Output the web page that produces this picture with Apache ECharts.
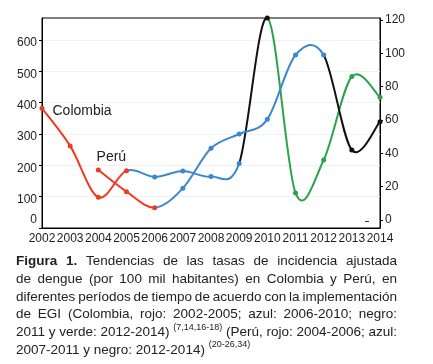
<!DOCTYPE html>
<html>
<head>
<meta charset="utf-8">
<script src="https://cdn.jsdelivr.net/npm/echarts@6/dist/echarts.min.js"></script>
<style>
html, body { margin: 0; padding: 0; background: #fff; }
#chart { width: 433px; height: 364px; }
</style>
</head>
<body>
<div id="chart"></div>
<script>
var years = ['2002', '2003', '2004', '2005', '2006', '2007', '2008', '2009', '2010', '2011', '2012', '2013', '2014'];
// Colombia read on the left axis, Peru on the right axis
var colombia = [382, 262, 98, 183, 163, 182, 164, 206, 670, 112, 217, 483, 417];
var peru = [null, null, 30, 17, 7.4, 19, 43, 51.6, 60.4, 99, 99, 42, 59];
var leftTicks = [0, 100, 200, 300, 400, 500, 600];
var rightTicks = [0, 20, 40, 60, 80, 100, 120];

var captionLines = [
    '*Figura *1. Tendencias de las tasas de incidencia ajustada',
    'de dengue (por 100 mil habitantes) en Colombia y Perú, en',
    'diferentes períodos de tiempo de acuerdo con la implementación',
    'de EGI (Colombia, rojo: 2002-2005; azul: 2006-2010; negro:',
    '2011 y verde: 2012-2014) ^(7,14,16-18) (Perú, rojo: 2004-2006; azul:',
    '2007-2011 y negro: 2012-2014) ^(20-26,34)'
];

var red = '#ee3a22', blue = '#3b88d0', black = '#111111', green = '#2ba24c';
// last point index of each coloured period
var colombiaPeriods = [[3, red], [7, blue], [8, black], [12, green]];
var peruPeriods = [[4, red], [10, blue], [12, black]];

var fam = '"Liberation Sans", Arial, sans-serif';
var txt = '#222';
var capFont = 13.5;

function colorAt(periods, i) {
    for (var k = 0; k < periods.length; k++) {
        if (i <= periods[k][0]) return periods[k][1];
    }
    return periods[periods.length - 1][1];
}

function pieces(periods) {
    return periods.map(function (p, k) {
        var piece = { lte: p[0], color: p[1] };
        if (k > 0) piece.gt = periods[k - 1][0];
        return piece;
    });
}

// smooth curve through the points (catmull-rom style, like the original plot)
function curveSeries(values, axisIndex, periods) {
    var first = 0;
    while (values[first] == null) first++;
    var last = values.length - 1;
    return {
        type: 'custom', yAxisIndex: axisIndex, silent: true, z: 1,
        data: values.map(function (v, i) { return [i, v]; }),
        encode: { x: 0, y: 1 },
        renderItem: function (params, api) {
            var i = params.dataIndex;
            if (i < first || i >= last) return;
            function pt(k) {
                k = Math.max(first, Math.min(last, k));
                return api.coord([k, values[k]]);
            }
            var p0 = pt(i - 1), p1 = pt(i), p2 = pt(i + 1), p3 = pt(i + 2);
            return {
                type: 'bezierCurve',
                shape: {
                    x1: p1[0], y1: p1[1], x2: p2[0], y2: p2[1],
                    cpx1: p1[0] + (p2[0] - p0[0]) / 6, cpy1: p1[1] + (p2[1] - p0[1]) / 6,
                    cpx2: p2[0] - (p3[0] - p1[0]) / 6, cpy2: p2[1] - (p3[1] - p1[1]) / 6
                },
                style: { stroke: colorAt(periods, i + 1), lineWidth: 2, fill: null }
            };
        }
    };
}

// caption, justified like the printed figure
var ctx = document.createElement('canvas').getContext('2d');
function measure(s, font) { ctx.font = font; return ctx.measureText(s).width; }

var capLeft = 16, capWidth = 381, capTop = 261.5, capStep = 17.7;
var captionEls = [];
captionLines.forEach(function (line, li) {
    var words = line.split(' ').map(function (w) {
        var font = capFont + 'px ' + fam, dy = 0;
        if (w.charAt(0) === '*') { w = w.slice(1); font = 'bold ' + capFont + 'px ' + fam; }
        else if (w.charAt(0) === '^') { w = w.slice(1); font = '9px ' + fam; dy = -5; }
        return { t: w, font: font, dy: dy, w: measure(w, font) };
    });
    var sum = 0;
    words.forEach(function (w) { sum += w.w; });
    var lastLine = li === captionLines.length - 1;
    var gap = lastLine ? measure(' ', capFont + 'px ' + fam) : (capWidth - sum) / (words.length - 1);
    var scale = 1;
    if (gap < 1.5) { gap = 1.5; scale = capWidth / (sum + gap * (words.length - 1)); }
    var x = 0, kids = [];
    words.forEach(function (w) {
        kids.push({
            type: 'text', x: x, y: w.dy,
            style: { text: w.t, font: w.font, fill: txt, verticalAlign: 'middle' }
        });
        x += w.w + gap;
    });
    captionEls.push({ type: 'group', x: capLeft, y: capTop + li * capStep, scaleX: scale, children: kids });
});

var myChart = echarts.init(document.getElementById('chart'));
var option = {
    animation: false,
    backgroundColor: '#fff',
    grid: {
        left: 42, right: 53, top: 18, bottom: 136,
        show: true, borderColor: '#000', borderWidth: 1
    },
    xAxis: {
        type: 'category',
        data: years,
        boundaryGap: false,
        axisLine: { lineStyle: { color: '#000' } },
        axisTick: { show: false },
        axisLabel: { interval: 0, margin: 5, fontSize: 12, fontFamily: fam, color: txt }
    },
    yAxis: [
        {
            type: 'value', min: 0, max: 670, interval: 100,
            axisLine: { show: true, lineStyle: { color: '#000' } },
            axisTick: { show: true, length: 3, customValues: leftTicks, lineStyle: { color: '#000' } },
            axisLabel: {
                customValues: leftTicks, margin: 5, fontSize: 12, fontFamily: fam, color: txt,
                padding: [6, 0, 0, 0],
                formatter: function (v) { return v === 0 ? '{z|0}' : v; },
                rich: { z: { fontSize: 12, fontFamily: fam, color: txt, padding: [0, 0, 22, 0] } }
            },
            splitLine: { show: true, lineStyle: { color: '#f1f1f1' } }
        },
        {
            type: 'value', position: 'right', min: -4.8, max: 121.2,
            axisLine: { show: true, lineStyle: { color: '#000' } },
            axisTick: { show: true, length: 3, customValues: rightTicks, lineStyle: { color: '#000' } },
            axisLabel: {
                customValues: rightTicks, margin: 5, fontSize: 12, fontFamily: fam, color: txt,
                padding: [7, 0, 0, 0]
            },
            splitLine: { show: false }
        }
    ],
    visualMap: [
        { show: false, seriesIndex: 2, dimension: 0, pieces: pieces(colombiaPeriods) },
        { show: false, seriesIndex: 3, dimension: 0, pieces: pieces(peruPeriods) }
    ],
    series: [
        curveSeries(colombia, 0, colombiaPeriods),
        curveSeries(peru, 1, peruPeriods),
        {
            name: 'Colombia', type: 'line', yAxisIndex: 0, z: 3,
            data: colombia, clip: false,
            symbol: 'circle', symbolSize: 5,
            lineStyle: { opacity: 0 },
            label: {
                show: true, position: 'right', distance: 8, offset: [0, 3],
                fontSize: 14, fontFamily: fam, color: txt,
                formatter: function (p) { return p.dataIndex === 0 ? 'Colombia' : ''; }
            },
            emphasis: { disabled: true }
        },
        {
            name: 'Perú', type: 'line', yAxisIndex: 1, z: 3,
            data: peru, clip: false,
            symbol: 'circle', symbolSize: 5,
            lineStyle: { opacity: 0 },
            label: {
                show: true, position: 'top', distance: 5, offset: [13, 2],
                fontSize: 14, fontFamily: fam, color: txt,
                formatter: function (p) { return p.dataIndex === 2 ? 'Perú' : ''; }
            },
            emphasis: { disabled: true }
        }
    ],
    graphic: [
        { type: 'line', shape: { x1: 365, y1: 221.5, x2: 369, y2: 221.5 }, style: { stroke: '#333', lineWidth: 1 } }
    ].concat(captionEls)
};
myChart.setOption(option);
</script>
</body>
</html>
